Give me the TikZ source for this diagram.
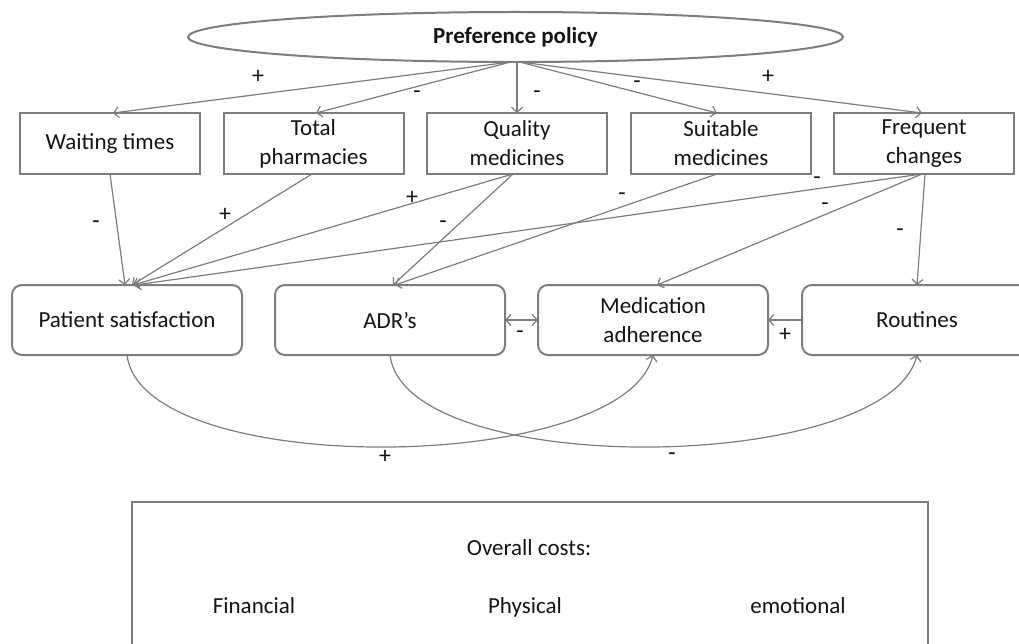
\documentclass[tikz,border=0pt]{standalone}
\usepackage{fontspec}
\setmainfont{Carlito}
\usetikzlibrary{arrows.meta,shapes.geometric}
\definecolor{linegray}{RGB}{125,125,125}
\definecolor{inkgray}{RGB}{20,20,20}
\begin{document}
\begin{tikzpicture}[x=1pt,y=-1pt,
  box/.style={draw=linegray,line width=2pt,fill=white,minimum width=180pt,minimum height=61pt,
    inner sep=0pt,outer sep=0pt,align=center,text=inkgray,font=\fontsize{23}{29}\selectfont},
  rbox/.style={box,rounded corners=10pt,minimum width=230pt,minimum height=70pt},
  conn/.style={draw=linegray,line width=1.2pt,-{Straight Barb[length=5pt,width=11pt]}},
  biconn/.style={draw=linegray,line width=1.2pt,{Straight Barb[length=5pt,width=11pt]}-{Straight Barb[length=5pt,width=11pt]}},
  sign/.style={font=\fontsize{24}{24}\selectfont,inner sep=0pt,text=inkgray},
  txt/.style={font=\fontsize{23}{28}\selectfont,inner sep=0pt,anchor=base,text=inkgray}]
\useasboundingbox (0,0) rectangle (1019,644);
\begin{scope}
\clip (0,0) rectangle (1019,644);

% top ellipse
\node[draw=linegray,line width=2pt,ellipse,minimum width=655pt,minimum height=50pt,inner sep=0pt,outer sep=0pt,
  text=inkgray,font=\fontsize{23}{28}\selectfont\bfseries] (pp) at (515.5,37) {Preference policy};

% first row
\node[box] (wt) at (110,143.5) {Waiting times};
\node[box] (tp) at (313.5,143.5) {Total\\pharmacies};
\node[box] (qm) at (517,143.5) {Quality\\medicines};
\node[box] (sm) at (721,143.5) {Suitable\\medicines};
\node[box] (fc) at (924,143.5) {Frequent\\changes};

% second row
\node[rbox] (ps) at (127,320) {Patient satisfaction};
\node[rbox] (adr) at (390,320) {ADR’s};
\node[rbox] (ma) at (653,320) {Medication\\adherence};
\node[rbox] (ro) at (917,320) {Routines};

% costs box
\node[draw=linegray,line width=2pt,minimum width=796pt,minimum height=180pt,inner sep=0pt,outer sep=0pt,anchor=north west] (cost) at (132,502) {};
\node[txt] (oc) at (529,555) {Overall costs:};
\node[txt] (fin) at (254,613) {Financial};
\node[txt] (phy) at (525,613) {Physical};
\node[txt] (emo) at (798,613) {emotional};

% arrows from policy
\draw[conn] ([xshift=-5pt]pp.south) -- ([xshift=3pt]wt.north);
\draw[conn] ([xshift=-5pt]pp.south) -- ([xshift=2.5pt]tp.north);
\draw[conn] ([xshift=1.5pt]pp.south) -- (qm.north);
\draw[conn] ([xshift=4pt]pp.south) -- ([xshift=-4pt]sm.north);
\draw[conn] ([xshift=4pt]pp.south) -- ([xshift=-2pt]fc.north);

\node[sign] (s1) at (258,77) {+};
\node[sign] (s2) at (417,95) {-};
\node[sign] (s3) at (537,95) {-};
\node[sign] (s4) at (637,85) {-};
\node[sign] (s5) at (768,77) {+};

% arrows to second row
\draw[conn] (wt.south) -- ([xshift=-2pt]ps.north);
\draw[conn] ([xshift=-1.5pt]tp.south) -- ([xshift=5pt]ps.north);
\draw[conn] ([xshift=-4pt]qm.south) -- ([xshift=6pt]ps.north);
\draw[conn] ([xshift=-4pt]qm.south) -- ([xshift=3pt]adr.north);
\draw[conn] ([xshift=-4pt]sm.south) -- ([xshift=5pt]adr.north);
\draw[conn] ([xshift=-2pt]fc.south) -- ([xshift=8pt]ps.north);
\draw[conn] ([xshift=-2pt]fc.south) -- ([xshift=4pt]ma.north);
\draw[conn] ([xshift=1pt]fc.south) -- (ro.north);

\node[sign] (s6) at (96,225) {-};
\node[sign] (s7) at (225,215) {+};
\node[sign] (s8) at (412,198) {+};
\node[sign] (s9) at (443,225) {-};
\node[sign] (s10) at (622,197) {-};
\node[sign] (s11) at (817,181) {-};
\node[sign] (s12) at (825,207) {-};
\node[sign] (s13) at (900,233) {-};

% horizontal links
\draw[biconn] (adr.east) -- (ma.west);
\draw[conn] (ro.west) -- (ma.east);
\node[sign] (s14) at (520,335) {-};
\node[sign] (s15) at (785,335) {+};

% curved links
\draw[conn] (ps.south) .. controls +(15,125) and +(-30,120) .. (ma.south);
\draw[conn] (adr.south) .. controls +(15,125) and +(-30,120) .. (ro.south);
\node[sign] (s16) at (385,457) {+};
\node[sign] (s17) at (672,457) {-};
\end{scope}
\end{tikzpicture}
\end{document}
